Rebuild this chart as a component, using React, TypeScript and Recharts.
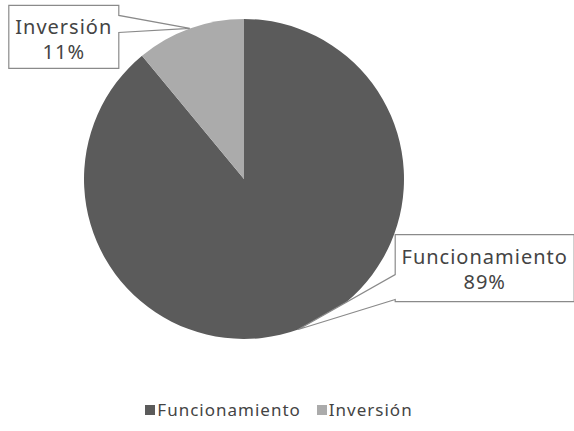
import React from "react";
import { PieChart, Pie, Cell, Legend } from "recharts";

// Distribución del gasto: funcionamiento vs inversión
const CATEGORIES = ["Funcionamiento", "Inversión"];
const VALUES = [89, 11];
const COLORS = ["#5b5b5b", "#ababab"];

const data = CATEGORIES.map((name, i) => ({ name, value: VALUES[i] }));

const FONT = "'Noto Sans', 'Open Sans', sans-serif";
const RAD = Math.PI / 180;

// callout box placement relative to the slice's edge point
const BOXES = [
  { dx0: 97, dx1: 276, dy0: -95, dy1: -28, side: "left", pA: -55, pB: -30 },
  { dx0: -181, dx1: -71, dy0: -23, dy1: 40, side: "right", pA: -13, pB: 4 },
];

function renderCallout(props: any) {
  const { cx, cy, midAngle, outerRadius, index, name, percent } = props;
  const tx = cx + outerRadius * Math.cos(-midAngle * RAD);
  const ty = cy + outerRadius * Math.sin(-midAngle * RAD);
  const b = BOXES[index];
  const x0 = tx + b.dx0, x1 = tx + b.dx1, y0 = ty + b.dy0, y1 = ty + b.dy1;
  const d =
    b.side === "right"
      ? `M${x0},${y0} H${x1} V${ty + b.pA} L${tx},${ty} L${x1},${ty + b.pB} V${y1} H${x0} Z`
      : `M${x0},${y0} H${x1} V${y1} H${x0} V${ty + b.pB} L${tx},${ty} L${x0},${ty + b.pA} Z`;
  const mx = (x0 + x1) / 2;
  return (
    <g>
      <path d={d} fill="#ffffff" stroke="#8a8a8a" strokeWidth={1.2} />
      <text x={mx} y={y0 + 29} textAnchor="middle" fill="#444" fontSize={20} fontFamily={FONT} letterSpacing={1}>
        {name}
      </text>
      <text x={mx} y={y0 + 54} textAnchor="middle" fill="#444" fontSize={20} fontFamily={FONT} letterSpacing={1}>
        {Math.round(percent * 100)}%
      </text>
    </g>
  );
}

function renderLegend(props: any) {
  const { payload } = props;
  return (
    <div style={{ display: "flex", justifyContent: "center", gap: 16, fontFamily: FONT, fontSize: 17, letterSpacing: 1, color: "#444" }}>
      {payload.map((p: any) => (
        <span key={p.value} style={{ display: "flex", alignItems: "center" }}>
          <span style={{ width: 10, height: 10, background: p.color, display: "inline-block", marginRight: 2 }} />
          {p.value}
        </span>
      ))}
    </div>
  );
}

export default function App() {
  return (
    <div style={{ position: "absolute", left: 0, top: 0, width: 574, height: 431, background: "#fff" }}>
      <PieChart width={574} height={431}>
        <Pie
          data={data}
          dataKey="value"
          nameKey="name"
          cx={239}
          cy={174}
          outerRadius={160}
          startAngle={90}
          endAngle={-270}
          stroke="none"
          label={renderCallout}
          labelLine={false}
          isAnimationActive={false}
        >
          {data.map((d, i) => (
            <Cell key={d.name} fill={COLORS[i]} />
          ))}
        </Pie>
        <Legend
          content={renderLegend}
          wrapperStyle={{ top: 398, left: -8, width: 574 }}
        />
      </PieChart>
    </div>
  );
}
